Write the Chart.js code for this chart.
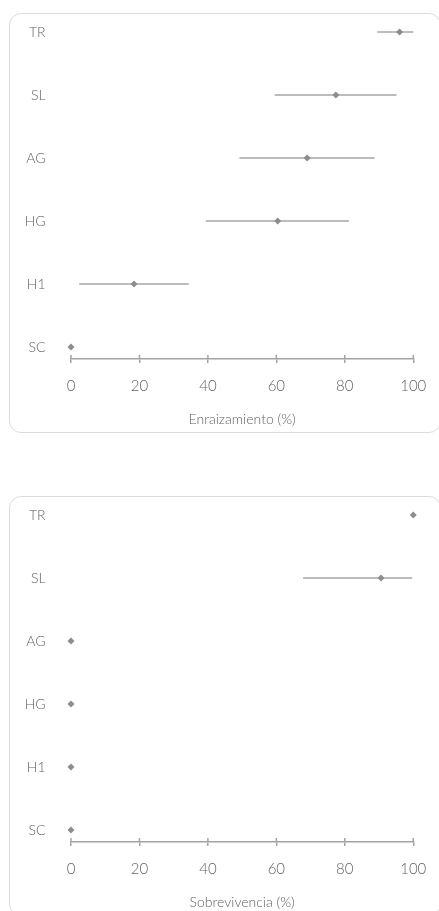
<!DOCTYPE html>
<html>
<head>
<meta charset="utf-8">
<script src="https://cdn.jsdelivr.net/npm/chart.js@4"></script>
<style>
	body { margin: 0; background: #fff; overflow: hidden; }
	.box {
		position: absolute;
		left: 9px;
		width: 432px;
		height: 420px;
		border: 1px solid #dcdcdc;
		border-radius: 12px;
		box-sizing: border-box;
	}
	.box canvas { display: block; }
</style>
</head>
<body>
<div class="box" style="top: 13px"><canvas id="root-canvas" width="430" height="418"></canvas></div>
<div class="box" style="top: 496px"><canvas id="surv-canvas" width="430" height="418"></canvas></div>
<script>
const categories = ["TR", "SL", "AG", "HG", "H1", "SC"];
const xTicks = [0, 20, 40, 60, 80, 100];

const rootMean = [96, 77.4, 69, 60.4, 18.4, 0];
const rootLow = [89.5, 59.5, 49.2, 39.4, 2.4, 0];
const rootHigh = [100, 95.1, 88.7, 81.2, 34.4, 0];

const survMean = [100, 90.6, 0, 0, 0, 0];
const survLow = [100, 67.8, 0, 0, 0, 0];
const survHigh = [100, 99.7, 0, 0, 0, 0];

Chart.defaults.font.family = "Lato";
Chart.defaults.font.size = 14;
Chart.defaults.font.weight = "300";
Chart.defaults.color = "#626262";

const axisColor = "#a3a3a3";

// small upper half of the x ticks, so they cross the axis line
const crossTicks = {
	id: "crossTicks",
	afterDraw(chart) {
		const x = chart.scales.x;
		const ctx = chart.ctx;
		const y = chart.chartArea.bottom;
		ctx.save();
		ctx.strokeStyle = axisColor;
		ctx.lineWidth = 1.5;
		xTicks.forEach((t) => {
			const px = x.getPixelForValue(t);
			ctx.beginPath();
			ctx.moveTo(px, y - 4);
			ctx.lineTo(px, y);
			ctx.stroke();
		});
		ctx.restore();
	},
};

function rowY(i) {
	return categories.length - 1 - i;
}

function makeChart(id, mean, low, high, title) {
	const datasets = [
		{
			data: mean.map((v, i) => ({ x: v, y: rowY(i) })),
			showLine: false,
			pointStyle: "rectRot",
			pointRadius: 3.5,
			pointBackgroundColor: "#8c8c93",
			pointBorderWidth: 0,
			clip: false,
		},
	];
	categories.forEach((c, i) => {
		if (high[i] > low[i]) {
			datasets.push({
				data: [
					{ x: low[i], y: rowY(i) },
					{ x: high[i], y: rowY(i) },
				],
				showLine: true,
				borderColor: "#a6a6a6",
				borderWidth: 1.5,
				pointRadius: 0,
				clip: false,
			});
		}
	});

	return new Chart(document.getElementById(id).getContext("2d"), {
		type: "scatter",
		data: { datasets: datasets },
		options: {
			responsive: false,
			animation: false,
			layout: { padding: { top: 5.4, right: 22, bottom: 0, left: 0 } },
			plugins: {
				legend: { display: false },
				tooltip: { enabled: false },
			},
			scales: {
				x: {
					min: 0,
					max: 100,
					afterBuildTicks: (s) => {
						s.ticks = xTicks.map((v) => ({ value: v }));
					},
					grid: {
						drawOnChartArea: false,
						color: axisColor,
						lineWidth: 1.5,
						tickLength: 4,
					},
					border: { color: axisColor, width: 1.5 },
					ticks: { padding: 13.7, maxRotation: 0, font: { size: 15 } },
					title: {
						display: true,
						text: title,
						padding: { top: 4, bottom: 4 },
					},
					afterFit: (s) => {
						s.height = 73;
					},
				},
				y: {
					min: -0.19,
					max: 5.2,
					grid: { display: false, drawTicks: false },
					border: { display: false },
					afterBuildTicks: (s) => {
						s.ticks = categories.map((c, i) => ({ value: rowY(i) }));
					},
					ticks: {
						padding: 25.5,
						callback: (v) => categories[categories.length - 1 - v],
					},
					afterFit: (s) => {
						s.width = 61;
						s.paddingTop = 0;
						s.paddingBottom = 0;
					},
				},
			},
		},
		plugins: [crossTicks],
	});
}

makeChart("root-canvas", rootMean, rootLow, rootHigh, "Enraizamiento (%)");
makeChart("surv-canvas", survMean, survLow, survHigh, "Sobrevivencia (%)");
</script>
</body>
</html>
